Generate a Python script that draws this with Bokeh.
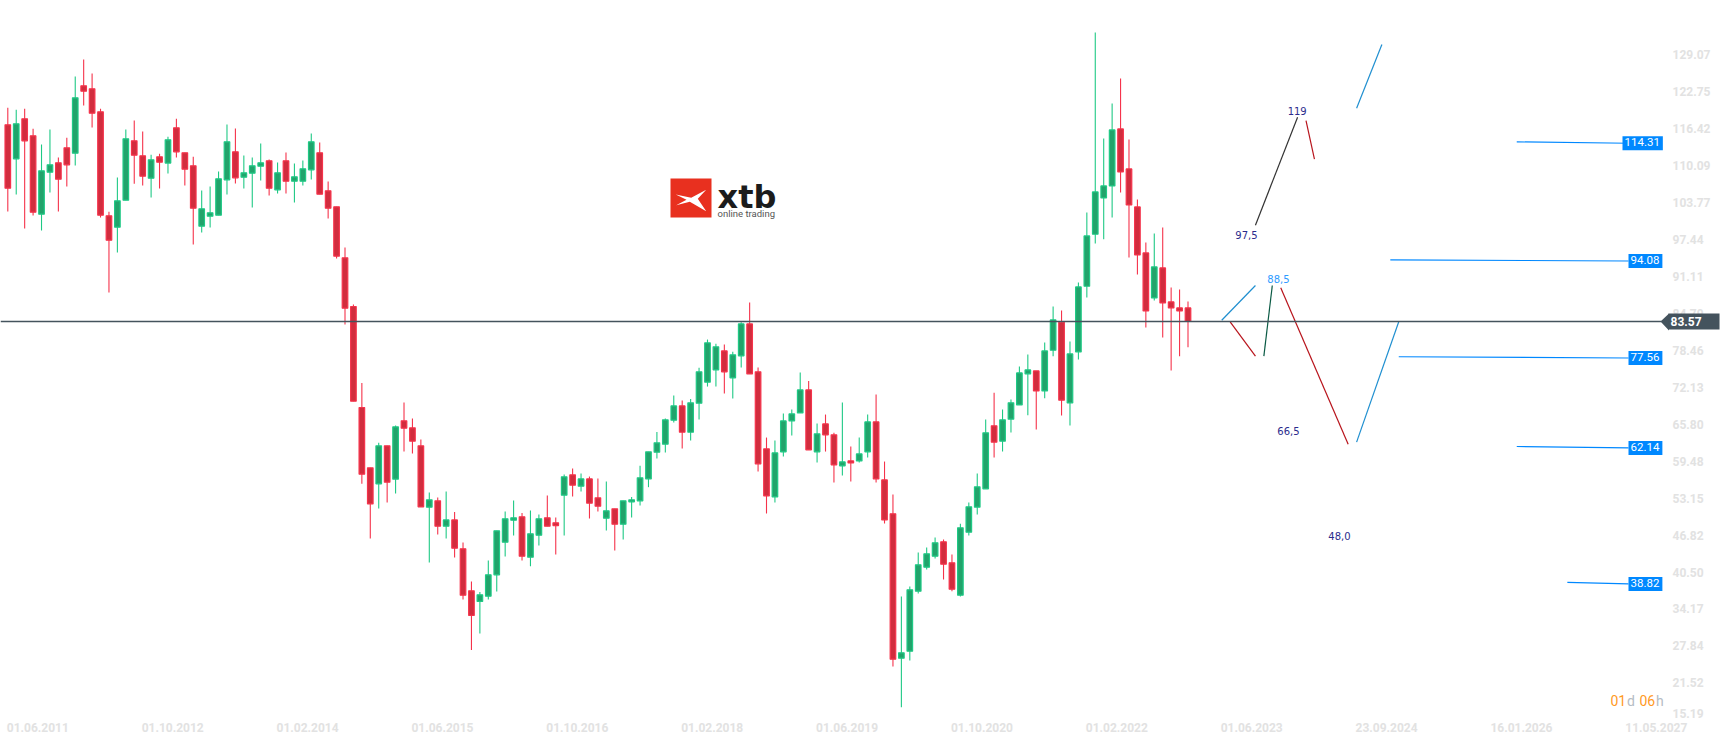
from bokeh.plotting import figure
from bokeh.models import ColumnDataSource, FixedTicker, Label, Range1d
from bokeh.embed import file_html
from bokeh.resources import INLINE

OPENS = [117.25,111.43,118.28,115.37,101.95,109.14,110.74,113.31,112.40,123.93,123.41,119.47,101.67,99.73,104.35,114.51,111.94,108.12,111.77,110.69,
116.74,112.45,110.23,99.90,101.61,101.78,107.83,112.63,108.29,108.97,110.17,111.08,106.12,111.08,107.60,107.60,109.54,112.45,105.95,103.21,
94.47,86.14,68.84,58.51,55.77,62.28,56.57,66.56,65.36,62.28,51.77,52.86,48.52,49.60,44.64,37.45,35.63,36.53,40.19,45.78,
49.55,50.12,43.21,46.98,49.95,49.09,53.83,57.31,55.37,56.62,53.37,49.89,51.49,48.86,52.69,52.86,56.62,61.19,62.56,66.67,
69.12,64.61,69.58,73.18,75.29,78.54,73.92,77.69,83.16,74.95,61.76,53.54,61.25,66.55,67.92,71.86,61.25,66.04,64.16,58.85,
59.70,59.70,61.25,66.38,56.45,50.64,25.92,27.12,37.40,41.51,43.39,45.84,42.25,36.71,47.50,51.78,54.92,65.71,63.08,66.85,
69.29,74.60,75.11,71.68,78.65,83.44,69.63,78.36,89.61,98.51,104.73,106.79,116.55,109.70,103.19,95.32,87.61,92.75,86.92,85.90,85.90]
HIGHS = [120.16,119.82,119.99,116.56,113.88,116.45,111.66,115.02,125.53,128.44,126.04,119.99,102.35,108.23,116.45,117.99,116.11,112.11,112.28,115.19,
118.28,112.45,111.77,106.00,106.69,109.26,117.31,116.62,112.00,111.66,114.05,111.31,110.80,112.51,110.63,111.14,115.76,114.22,107.55,103.21,
96.24,86.48,73.06,58.51,62.79,62.28,65.76,69.70,66.96,63.36,54.28,53.43,54.46,50.97,45.72,39.04,37.27,42.64,47.72,51.03,
52.91,50.80,51.20,50.52,53.77,50.00,57.37,58.39,57.54,57.02,56.68,56.17,51.49,52.86,53.54,58.85,61.25,64.67,66.95,70.89,
70.04,70.32,75.63,80.48,79.74,79.63,78.37,83.45,86.82,75.69,63.70,63.19,67.81,68.50,74.83,73.40,66.10,67.64,64.50,69.69,
62.16,63.70,67.64,71.06,59.59,53.95,36.48,38.19,44.02,44.87,46.59,46.24,43.67,48.93,52.58,57.54,66.79,71.36,68.50,70.22,
75.85,77.91,75.11,79.96,86.13,85.44,80.13,90.23,102.22,133.05,114.89,120.89,125.17,114.72,104.45,97.08,98.63,99.65,89.38,89.04,86.98]
LOWS = [102.41,105.32,99.50,101.72,99.15,105.66,102.41,106.69,110.28,120.56,116.79,101.38,88.54,95.39,104.35,107.15,106.86,104.81,106.35,108.92,
111.66,106.86,96.76,98.81,99.67,101.78,105.32,107.20,106.35,103.09,107.72,105.15,105.49,105.49,103.95,106.86,107.89,105.38,101.21,94.36,
83.06,69.92,55.77,46.41,51.54,52.57,54.11,61.30,60.96,51.83,42.30,47.09,46.41,43.15,35.96,27.33,30.16,35.96,37.33,43.33,
46.92,42.64,41.67,45.21,48.52,43.67,46.92,53.60,54.46,49.83,51.03,47.78,44.35,46.24,50.00,52.06,55.20,60.10,61.13,66.27,
61.82,63.19,66.78,72.43,72.43,71.24,70.38,75.69,74.60,57.88,50.69,52.57,60.45,64.04,67.92,61.59,59.42,61.30,55.99,57.19,
56.17,59.42,60.28,55.99,48.97,24.50,17.53,25.52,37.00,41.11,42.99,39.39,37.40,36.48,46.93,50.52,54.92,60.28,61.31,64.57,
69.29,67.50,65.08,70.43,77.62,67.46,65.76,77.05,87.67,96.91,97.66,101.37,105.65,94.52,91.60,82.53,87.15,80.82,75.17,77.62,79.16]
CLOSES = [106.40,117.42,114.51,102.29,109.37,110.40,107.94,110.40,121.87,123.01,119.25,101.78,97.50,104.23,114.85,112.05,108.46,111.26,110.86,114.68,
112.63,109.66,102.98,102.86,102.18,108.00,114.34,108.17,109.03,110.23,110.74,106.40,109.03,107.60,108.34,109.71,114.34,105.38,102.98,94.76,
85.85,69.92,57.42,52.34,62.28,56.05,65.53,65.30,63.08,51.83,53.03,48.52,49.60,44.75,36.70,33.24,36.76,40.19,47.72,49.78,
49.95,43.38,47.21,49.78,48.52,48.63,56.97,55.54,56.62,52.46,51.94,51.15,48.86,52.86,53.03,56.80,61.25,62.79,66.73,69.12,
64.61,69.64,74.95,79.91,79.23,74.95,77.86,83.16,74.60,59.19,53.71,61.07,66.55,67.75,71.86,61.59,64.33,64.16,59.02,59.53,
59.36,60.90,66.38,56.62,49.60,25.75,26.84,37.62,41.90,43.79,45.67,42.02,37.74,48.24,51.84,55.26,64.51,62.91,66.73,69.65,
74.77,75.28,71.68,78.53,83.84,70.09,78.02,89.49,98.23,105.76,106.79,116.38,109.19,103.53,94.97,85.38,92.92,86.75,85.90,85.38,83.57]

X_TICK_BARS = [0,16,32,48,64,80,96,112,128,144,160,176,192]
X_TICK_LABELS = ["01.06.2011","01.10.2012","01.02.2014","01.06.2015","01.10.2016","01.02.2018","01.06.2019","01.10.2020",
                 "01.02.2022","01.06.2023","23.09.2024","16.01.2026","11.05.2027"]
Y_TICK_LABELS = ["129.07","122.75","116.42","110.09","103.77","97.44","91.11","84.79","78.46","72.13","65.80",
                 "59.48","53.15","46.82","40.50","34.17","27.84","21.52","15.19"]
LAST_PRICE = 83.57

WAVE_X0 = [148,154,160,144,145,149,151,160]
WAVE_X1 = [153,155,163,148,148,150,159,165]
WAVE_Y0 = [100.06,117.98,120.09,83.79,83.52,77.63,89.34,62.91]
WAVE_Y1 = [118.55,111.36,130.99,89.73,77.63,89.73,62.57,83.52]
WAVE_COLORS = ["#333333","#b8141c","#1f8fd0","#1f8fd0","#b8141c","#0a5a44","#b8141c","#1f8fd0"]

WAVE_TEXT = ["119","97,5","88,5","66,5","48,0"]
WAVE_TEXT_X = [152.95,146.94,150.73,151.92,157.97]
WAVE_TEXT_Y = [119.64,98.41,90.88,64.86,46.88]
WAVE_TEXT_COLORS = ["#2b2b8c","#2b2b8c","#2f9bff","#2b2b8c","#2b2b8c"]

LEVEL_LABELS = ["114.31","94.08","77.56","62.14","38.82"]
LEVEL_START_BAR = [179,164,165,179,185]
LEVEL_START = [114.33,94.13,77.53,62.17,38.89]
LEVEL_END = [114.09,93.93,77.32,61.92,38.63]

PX_PER_BAR, X0_PX = 8.43, 7.3
PX_PER_UNIT, LAST_Y_PX = 5.84, 321.0
FRAME_R, FRAME_B = 1732, 720
bx = lambda px: (px - X0_PX) / PX_PER_BAR
py = lambda y: LAST_PRICE + (LAST_Y_PX - y) / PX_PER_UNIT

p = figure(frame_width=FRAME_R, frame_height=FRAME_B, output_backend="svg", toolbar_location=None,
           x_range=Range1d(bx(0), bx(FRAME_R)), y_range=Range1d(py(FRAME_B), py(0)),
           y_axis_location="right", min_border=0, min_border_left=0, min_border_right=0,
           min_border_top=0, min_border_bottom=745 - FRAME_B, background_fill_color="white",
           border_fill_color="white", outline_line_color=None, margin=0)
p.grid.visible = False

xtick_pos = [b + 30 / PX_PER_BAR for b in X_TICK_BARS]  # labels start at their bar, the axis centres them
p.xaxis.ticker = FixedTicker(ticks=xtick_pos)
p.xaxis.major_label_overrides = dict(zip(xtick_pos, X_TICK_LABELS))
# labels sit about 1px above their level; the last one is nudged up off the bottom edge
ytick_pos = [float(t) + 1 / PX_PER_UNIT for t in Y_TICK_LABELS[:-1]] + [py(713.3)]
p.yaxis.ticker = FixedTicker(ticks=ytick_pos)
p.yaxis.major_label_overrides = dict(zip(ytick_pos, Y_TICK_LABELS))
p.yaxis.fixed_location = bx(1668)
for ax in (p.xaxis[0], p.yaxis[0]):
    ax.axis_line_color = None
    ax.major_tick_line_color = None
    ax.minor_tick_line_color = None
    ax.major_tick_out = 0
    ax.major_tick_in = 0
    ax.major_label_text_color = "#e2e2e2"
    ax.major_label_text_font = "Roboto"
    ax.major_label_text_font_size = "12px"
    ax.major_label_text_font_style = "bold"
p.xaxis.major_label_standoff = 2
p.yaxis.major_label_standoff = 4

bars = list(range(len(OPENS)))
up = [c >= o for o, c in zip(OPENS, CLOSES)]
src = ColumnDataSource(dict(
    x=bars, high=HIGHS, low=LOWS,
    top=[max(o, c) for o, c in zip(OPENS, CLOSES)],
    bottom=[min(o, c) for o, c in zip(OPENS, CLOSES)],
    wick=["#1fc985" if u else "#f5334b" for u in up],
    fill=["#22a36b" if u else "#d12d3e" for u in up],
))
p.segment("x", "high", "x", "low", source=src, line_color="wick", line_width=1.1)
p.vbar("x", top="top", bottom="bottom", width=0.66, source=src, fill_color="fill", line_color="wick", line_width=1.2)

p.segment(LEVEL_START_BAR, LEVEL_START, [bx(1628)] * 5, LEVEL_END, line_color="#0088ff", line_width=1.2)

p.segment(WAVE_X0, WAVE_Y0, WAVE_X1, WAVE_Y1, line_color=WAVE_COLORS, line_width=1.2)
p.text(WAVE_TEXT_X, WAVE_TEXT_Y, text=WAVE_TEXT, text_color=WAVE_TEXT_COLORS, text_font={"value": "DejaVu Sans"},
       text_font_size="10px", text_align="center", text_baseline="middle")

p.line([bx(0), bx(1661)], [LAST_PRICE, LAST_PRICE], line_color="#44535d", line_width=1.3)
p.patch([bx(1660), bx(1668.5), bx(1668.5)], [LAST_PRICE, py(313), py(330)], fill_color="#44535d", line_color=None)
p.add_layout(Label(x=bx(1668), y=LAST_PRICE, text=f"{LAST_PRICE:.2f}", text_color="white", text_font="Roboto",
                   text_font_size="12px", text_font_style="bold", text_align="left", text_baseline="middle",
                   background_fill_color="#44535d", padding=(2, 18, 3, 4)))

for lab, y in zip(LEVEL_LABELS, LEVEL_END):
    w = 1622 if len(lab) == 6 else 1628
    p.add_layout(Label(x=bx(w), y=y, text=lab, text_color="white", text_font="Roboto", text_font_size="11.5px",
                       text_align="left", text_baseline="middle", background_fill_color="#0088ff",
                       padding=(2, 3, 2, 4)))

for txt, xpos, col in [("01", 1610, "#ff9a1f"), ("d", 1626.5, "#b5bcc4"), ("06", 1639, "#ff9a1f"), ("h", 1655.5, "#b5bcc4")]:
    p.text([bx(xpos)], [py(700)], text=[txt], text_color=col, text_font={"value": "Roboto"}, text_font_size="14px",
           text_align="left", text_baseline="middle")

p.quad(left=bx(670), right=bx(711), top=py(178), bottom=py(217), fill_color="#e8301f", line_color=None)
lx = [675.3, 690.7, 705.7, 697.3, 705.7, 689.3, 675.7, 686]
ly = [194, 197.3, 189.3, 198.3, 210.7, 201.3, 204.7, 199.3]
p.patch([bx(v) for v in lx], [py(v) for v in ly], fill_color="white", line_color=None)
p.text([bx(717)], [py(196.5)], text=["xtb"], text_color="#1c1c1c", text_font={"value": "DejaVu Sans"},
       text_font_size="32px", text_font_style="bold", text_align="left", text_baseline="middle")
p.text([bx(717)], [py(212.5)], text=["online trading"], text_color="#555555", text_font={"value": "Roboto"},
       text_font_size="9.5px", text_align="left", text_baseline="middle")

open("out.html", "w").write(file_html(p, INLINE))
